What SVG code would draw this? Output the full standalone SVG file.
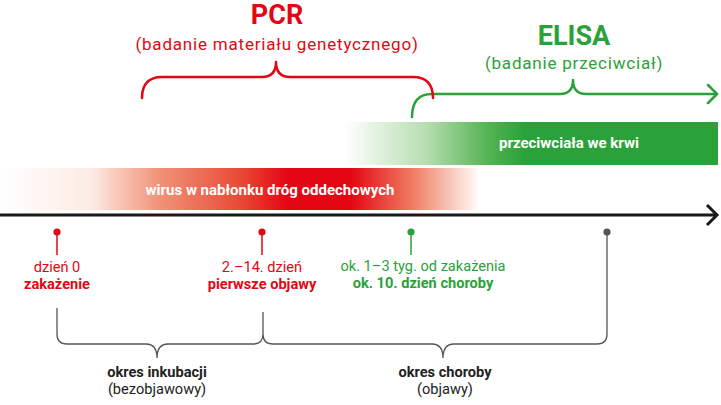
<svg xmlns="http://www.w3.org/2000/svg" width="721" height="405" viewBox="0 0 721 405">
  <defs>
    <linearGradient id="gRed" gradientUnits="userSpaceOnUse" x1="0" y1="0" x2="480" y2="0">
      <stop offset="0" stop-color="#ffffff"/>
      <stop offset="0.19" stop-color="#fdebe4"/>
      <stop offset="0.33" stop-color="#f1937a"/>
      <stop offset="0.5" stop-color="#e94a35"/>
      <stop offset="0.6" stop-color="#e30613"/>
      <stop offset="0.73" stop-color="#e30613"/>
      <stop offset="0.86" stop-color="#ef7d62"/>
      <stop offset="1" stop-color="#ffffff"/>
    </linearGradient>
    <linearGradient id="gGreen" gradientUnits="userSpaceOnUse" x1="345" y1="0" x2="525" y2="0">
      <stop offset="0" stop-color="#ffffff"/>
      <stop offset="0.45" stop-color="#b8ddb1"/>
      <stop offset="0.8" stop-color="#52b352"/>
      <stop offset="1" stop-color="#2ba13a"/>
    </linearGradient>
    <style>
      text { font-family: Roboto, "Liberation Sans", Arial, sans-serif; text-anchor: middle; }
      .red { fill: #e30613; }
      .green { fill: #2ba13a; }
      .dark { fill: #222222; }
      .b { font-weight: bold; }
      .title { font-size: 27px; font-weight: bold; }
      .sub { font-size: 17px; letter-spacing: 0.8px; }
      .lbl { font-size: 14.6px; }
      .bar { font-size: 15px; font-weight: bold; fill: #ffffff; }
      .bot { font-size: 14.6px; }
      .brace-red { fill: none; stroke: #e30613; stroke-width: 2.5; stroke-linecap: round; stroke-linejoin: round; }
      .brace-green { fill: none; stroke: #2ba13a; stroke-width: 2.5; stroke-linecap: round; stroke-linejoin: round; }
      .grey { fill: none; stroke: #555555; stroke-width: 1.3; }
      .axis { fill: none; stroke: #1a1a1a; stroke-width: 3; }
    </style>
  </defs>
  <rect width="721" height="405" fill="#ffffff"/>

  <!-- bands -->
  <g id="band-antibodies">
    <rect x="345" y="122" width="373" height="43" fill="url(#gGreen)"/>
    <text class="bar" x="569" y="148">przeciwciała we krwi</text>
  </g>
  <g id="band-virus">
    <rect x="0" y="168" width="480" height="42" fill="url(#gRed)"/>
    <text class="bar" x="270" y="195">wirus w nabłonku dróg oddechowych</text>
  </g>

  <!-- titles -->
  <g id="pcr">
    <text class="title red" x="277" y="24">PCR</text>
    <text class="sub red" x="277" y="50">(badanie materiału genetycznego)</text>
  </g>
  <g id="elisa">
    <text class="title green" x="574" y="45">ELISA</text>
    <text class="sub green" x="574" y="69">(badanie przeciwciał)</text>
  </g>

  <!-- connectors -->
  <g id="connectors">
    <path class="brace-green" d="M412,117 Q412,94 432,94 L560,94 Q573,94 573,80 Q573,94 586,94 L717,94 M708,85 L717,94 L708,103"/>
    <path class="brace-red" d="M142,98 Q142,77 162,77 L262,77 Q276,77 276,62 Q276,77 290,77 L413,77 Q433,77 433,98"/>
    <path class="axis" d="M0,215 L716,215 M707,205 L717,215 L707,225"/>
    <path class="grey" d="M57,308 L57,334 Q57,344 67,344 L146,344 Q157,344 157,358 Q157,344 168,344 L253,344 Q263,344 263,334 L263,312 M263,334 Q263,344 273,344 L432,344 Q443,344 443,358 Q443,344 454,344 L597,344 Q607,344 607,334 L607,232"/>
  </g>

  <!-- markers -->
  <g id="m-day0">
    <line x1="57" y1="232" x2="57" y2="255" stroke="#e30613" stroke-width="1.5"/>
    <circle cx="57" cy="232" r="3.6" fill="#e30613"/>
    <text class="lbl red" x="57" y="271.5">dzień 0</text>
    <text class="lbl red b" x="57" y="288.5">zakażenie</text>
  </g>
  <g id="m-symptoms">
    <line x1="262" y1="232" x2="262" y2="255" stroke="#e30613" stroke-width="1.5"/>
    <circle cx="262" cy="232" r="3.6" fill="#e30613"/>
    <text class="lbl red" x="262" y="271.5">2.–14. dzień</text>
    <text class="lbl red b" x="262" y="288.5">pierwsze objawy</text>
  </g>
  <g id="m-antibodies">
    <line x1="411" y1="232" x2="411" y2="255" stroke="#2ba13a" stroke-width="1.5"/>
    <circle cx="411" cy="232" r="3.6" fill="#2ba13a"/>
    <text class="lbl green" x="423" y="270.5">ok. 1–3 tyg. od zakażenia</text>
    <text class="lbl green b" x="423" y="287.5">ok. 10. dzień choroby</text>
  </g>
  <g id="m-end">
    <circle cx="607" cy="232" r="3.6" fill="#555555"/>
  </g>

  <!-- periods -->
  <g id="incubation">
    <text class="bot dark b" x="157" y="376.5">okres inkubacji</text>
    <text class="bot dark" x="157" y="393.5">(bezobjawowy)</text>
  </g>
  <g id="disease">
    <text class="bot dark b" x="445" y="376.5">okres choroby</text>
    <text class="bot dark" x="445" y="393.5">(objawy)</text>
  </g>
</svg>
